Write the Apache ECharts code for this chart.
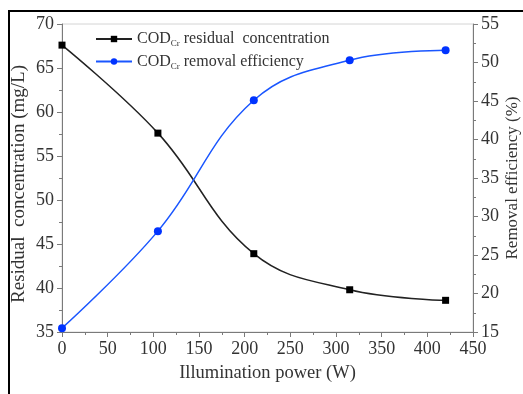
<!DOCTYPE html>
<html>
<head>
<meta charset="utf-8">
<script src="https://cdn.jsdelivr.net/npm/echarts@6/dist/echarts.min.js"></script>
<style>
    html, body { margin: 0; padding: 0; background: #fff; }
    #chart { width: 523px; height: 394px; }
</style>
</head>
<body>
<div id="chart"></div>
<script>
    // 数据
    let power = [0, 105, 210, 315, 420];
    let residual = [67.6, 57.6, 43.9, 39.8, 38.6];
    let removal = [15.5, 28.1, 45.1, 50.3, 51.6];

    let font = 'Liberation Serif';
    let axisGrey = '#7a7a7a';

    let myChart = echarts.init(document.getElementById('chart'));

    // 通用轴样式
    function axisStyle(extra) {
        return Object.assign({
            nameLocation: 'middle',
            nameMoveOverlap: false,
            nameTextStyle: { fontFamily: font, fontSize: 19, color: '#333' },
            axisLine: { show: true, lineStyle: { color: axisGrey, width: 1 } },
            axisTick: { show: true, inside: false, length: 5, lineStyle: { color: axisGrey } },
            minorTick: { show: true, splitNumber: 2, length: 3, lineStyle: { color: axisGrey } },
            axisLabel: { fontFamily: font, fontSize: 18, color: '#333', margin: 8 },
            splitLine: { show: false }
        }, extra);
    }

    let legendRich = {
        a: { fontFamily: font, fontSize: 16, color: '#333' },
        sub: { fontFamily: font, fontSize: 9, color: '#333', padding: [10, 0, 0, 0] }
    };

    let option = {
        animation: false,
        backgroundColor: '#fff',
        graphic: [{
            type: 'rect',
            shape: { x: 9, y: 11, width: 700, height: 600 },
            style: { fill: 'none', stroke: '#000', lineWidth: 2 },
            silent: true
        }],
        grid: {
            show: true,
            left: 62, right: 50, top: 24, bottom: 62,
            containLabel: false,
            outerBoundsMode: 'none',
            borderColor: '#d4d4d4', borderWidth: 1,
            backgroundColor: 'transparent'
        },
        legend: {
            orient: 'vertical',
            left: 90, top: 26,
            itemWidth: 36, itemHeight: 8, itemGap: 5,
            data: ['res', 'rem'],
            formatter: function (name) {
                if (name === 'res') return '{a|COD}{sub|Cr}{a| residual  concentration}';
                return '{a|COD}{sub|Cr}{a| removal efficiency}';
            },
            textStyle: { rich: legendRich }
        },
        xAxis: axisStyle({
            type: 'value',
            min: 0, max: 450, interval: 50,
            name: 'Illumination power (W)',
            nameGap: 32,
            nameTextStyle: { fontFamily: font, fontSize: 18.5, color: '#333' }
        }),
        yAxis: [
            axisStyle({
                type: 'value',
                min: 35, max: 70, interval: 5,
                name: 'Residual  concentration (mg/L)',
                nameGap: 33,
                nameTextStyle: { fontFamily: font, fontSize: 19, color: '#333', padding: [0, 0, 0, -12] }
            }),
            axisStyle({
                type: 'value',
                position: 'right',
                min: 15, max: 55, interval: 5,
                name: 'Removal efficiency (%)',
                nameGap: 31,
                nameTextStyle: { fontFamily: font, fontSize: 17, color: '#333' }
            })
        ],
        series: [{
            name: 'res',
            type: 'line',
            yAxisIndex: 0,
            smooth: 0.4,
            data: power.map((p, i) => [p, residual[i]]),
            symbol: 'rect',
            symbolSize: 7,
            lineStyle: { color: '#222', width: 1.5 },
            itemStyle: { color: '#000' }
        }, {
            name: 'rem',
            type: 'line',
            yAxisIndex: 1,
            smooth: 0.4,
            data: power.map((p, i) => [p, removal[i]]),
            symbol: 'circle',
            symbolSize: 8,
            lineStyle: { color: '#1a56ff', width: 1.5 },
            itemStyle: { color: '#0033ff' }
        }]
    };

    myChart.setOption(option);
</script>
</body>
</html>
